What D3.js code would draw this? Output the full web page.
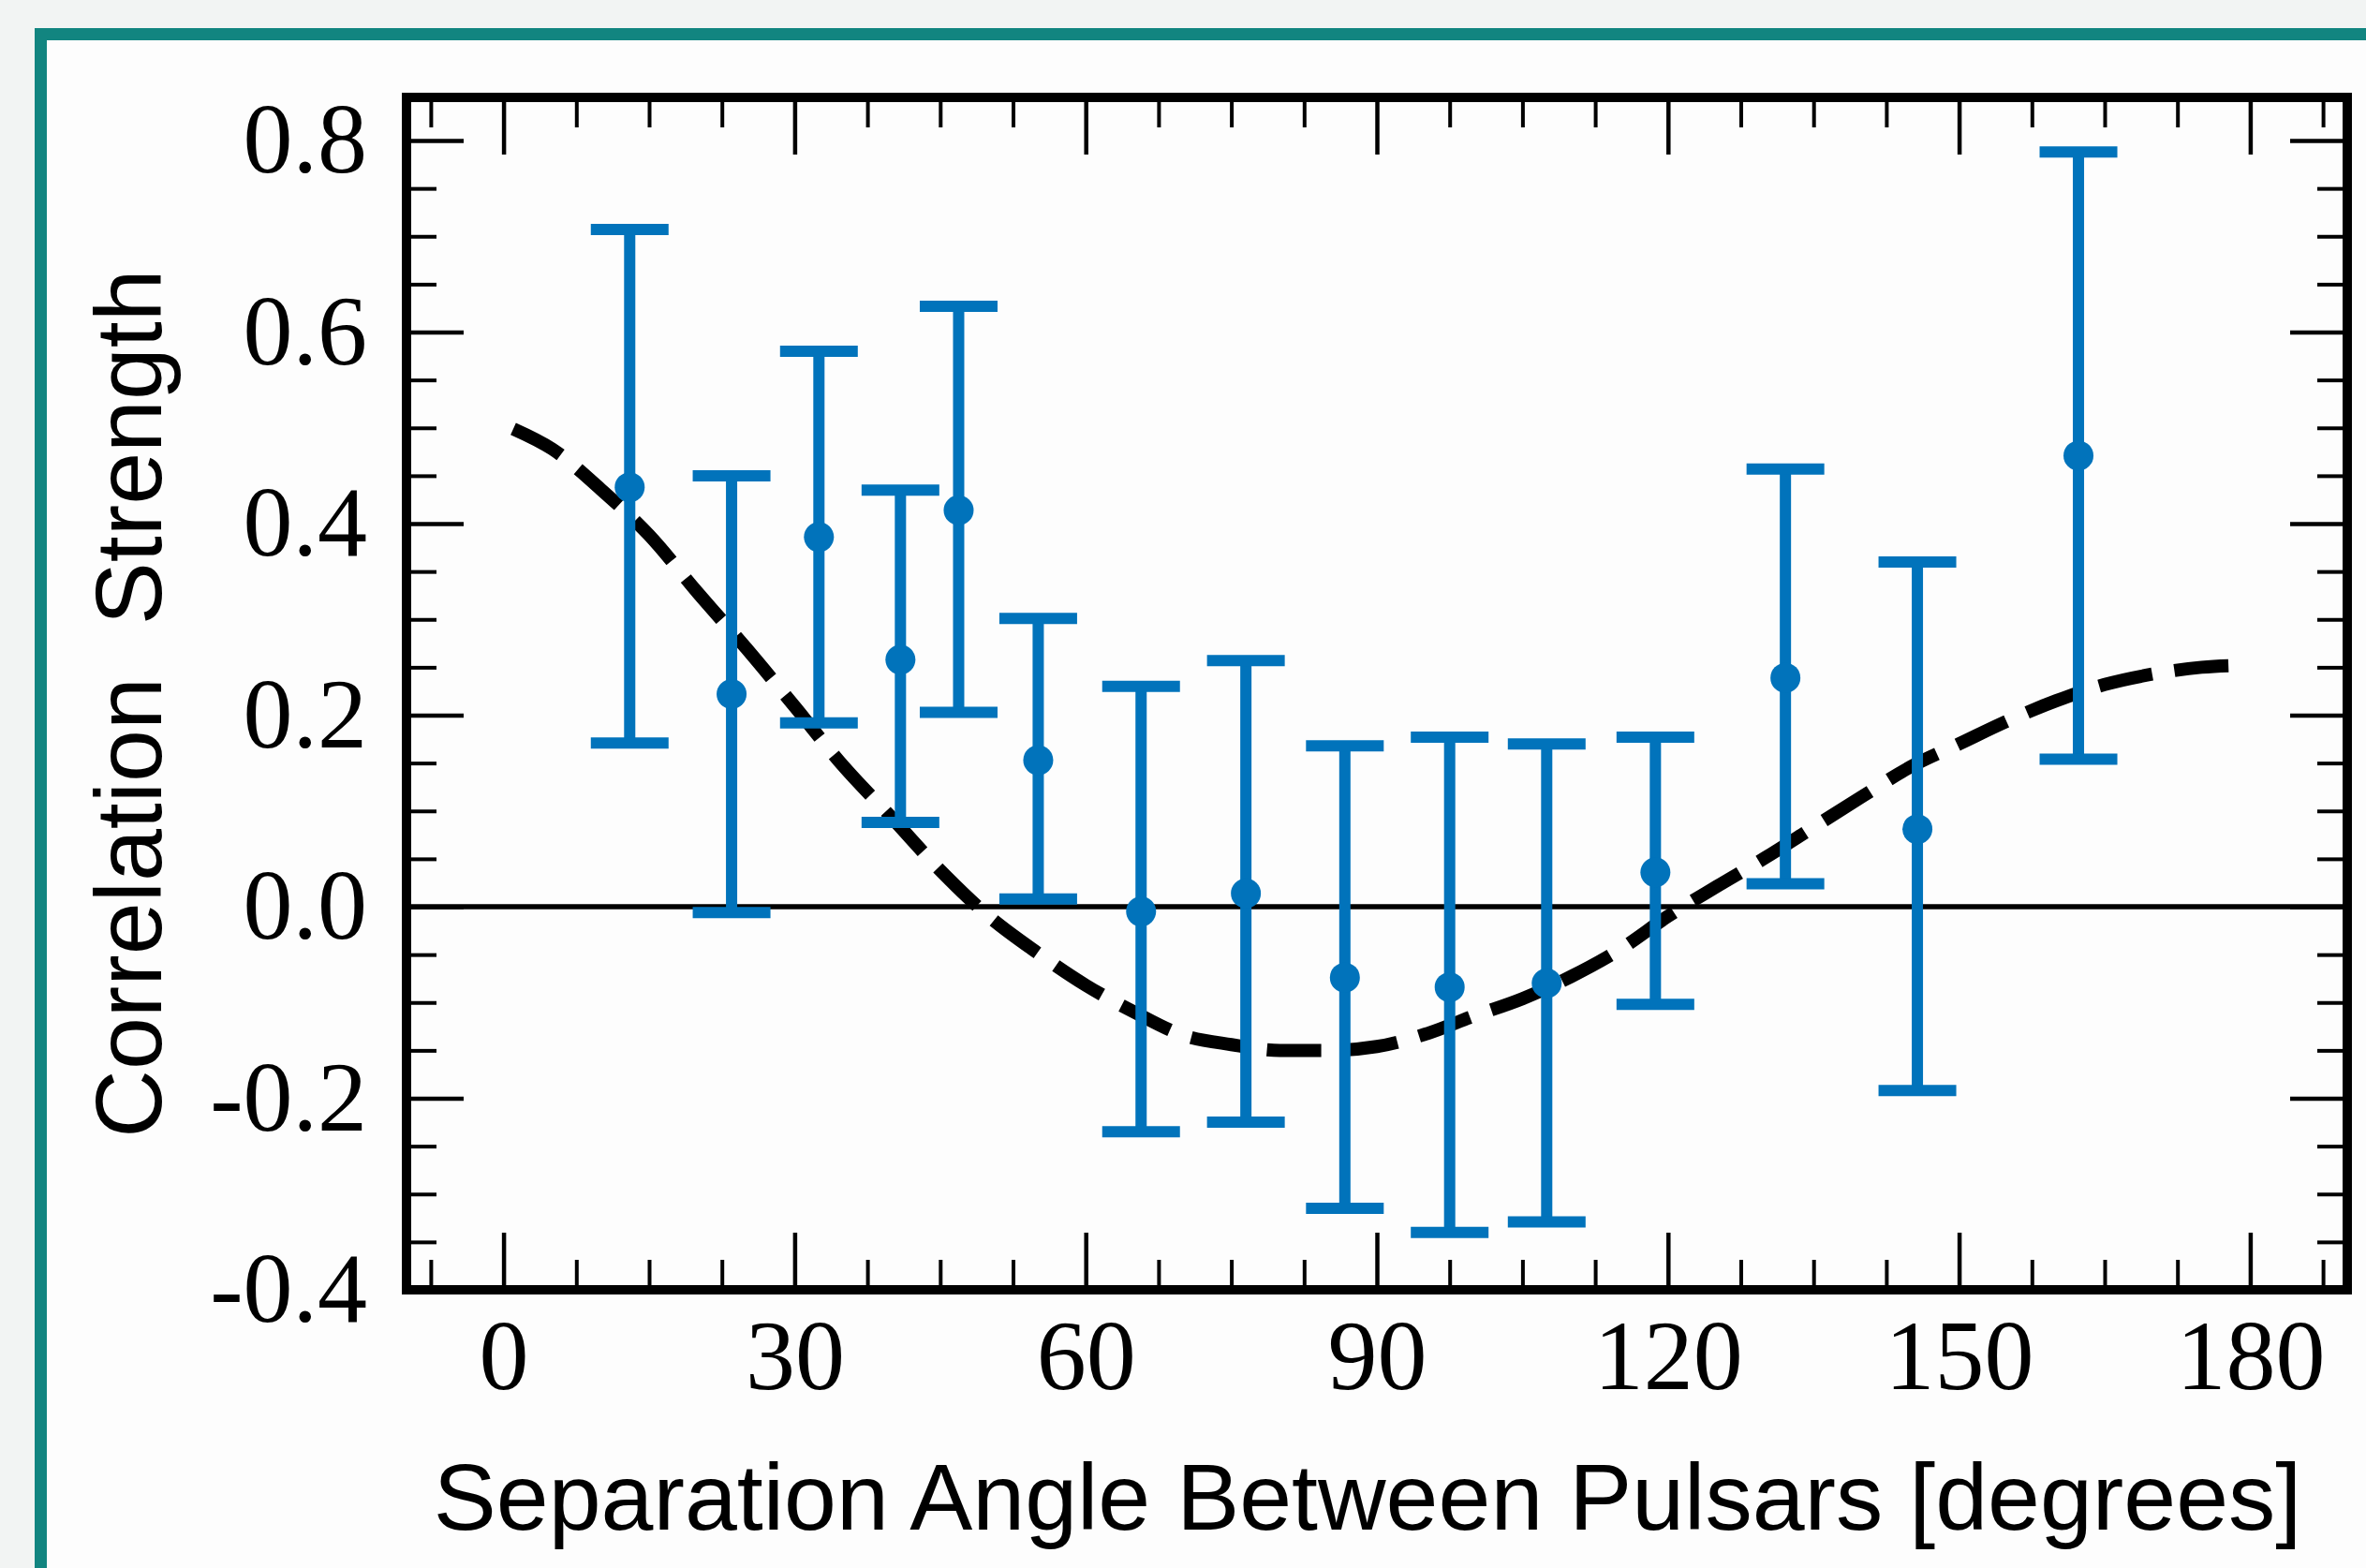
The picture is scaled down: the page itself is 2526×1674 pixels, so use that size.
<!DOCTYPE html>
<html>
<head>
<meta charset="utf-8">
<script src="https://cdn.jsdelivr.net/npm/d3@7"></script>
<style>
html, body { margin: 0; padding: 0; background: #f2f4f3; }
svg { display: block; }
</style>
</head>
<body>
<div id="chart"></div>
<script>
// pulsar pair bins: angle [deg], correlation, error bar top / bottom
const angles = [13, 23.5, 32.5, 40.9, 46.9, 55.1, 65.7, 76.5, 86.7, 97.5, 107.5, 118.7, 132.1, 145.7, 162.3];
const corr = [0.438, 0.222, 0.386, 0.258, 0.414, 0.153, -0.005, 0.014, -0.074, -0.084, -0.080, 0.036, 0.239, 0.081, 0.471];
const errTop = [0.707, 0.450, 0.580, 0.435, 0.627, 0.301, 0.230, 0.257, 0.168, 0.177, 0.170, 0.177, 0.457, 0.360, 0.788];
const errBottom = [0.171, -0.006, 0.192, 0.088, 0.203, 0.008, -0.235, -0.225, -0.315, -0.340, -0.329, -0.102, 0.024, -0.192, 0.154];

// dashed expected curve
const hdAngles = [1, 5, 10, 15, 20, 25, 30, 35, 40, 45, 50, 55, 60, 65, 70, 75, 80, 85, 90, 95, 100, 105, 110, 115, 120, 125, 130, 135, 140, 145, 150, 155, 160, 165, 170, 175, 179];
const hdValues = [0.499, 0.478, 0.436, 0.388, 0.328, 0.270, 0.209, 0.147, 0.093, 0.038, -0.010, -0.048, -0.082, -0.110, -0.134, -0.144, -0.150, -0.150, -0.146, -0.133, -0.114, -0.096, -0.073, -0.045, -0.010, 0.021, 0.051, 0.083, 0.115, 0.146, 0.170, 0.194, 0.215, 0.232, 0.243, 0.250, 0.252];

const xTicks = [0, 30, 60, 90, 120, 150, 180];
const yTicks = [-0.4, -0.2, 0, 0.2, 0.4, 0.6, 0.8];
const yTickLabels = ["-0.4", "-0.2", "0.0", "0.2", "0.4", "0.6", "0.8"];

const width = 2526, height = 1674;
const plot = {left: 434, right: 2506, top: 104, bottom: 1377};

const svg = d3.select("#chart").append("svg")
  .attr("width", width)
  .attr("height", height);

// teal card
svg.append("rect")
  .attr("x", 43.5).attr("y", 36.5)
  .attr("width", 3000).attr("height", 3000)
  .attr("fill", "#fdfdfd")
  .attr("stroke", "#128580")
  .attr("stroke-width", 13);

const x = d3.scaleLinear([-10, 190], [plot.left, plot.right]);
const y = d3.scaleLinear([-0.4, 0.845], [plot.bottom, plot.top]);

const xMinor = d3.range(-7.5, 190, 7.5).filter(v => !xTicks.includes(v));
const yMinor = d3.range(-8, 17).map(i => i * 0.05).filter(v => Math.abs(Math.round(v * 5) - v * 5) > 1e-6);

const serif = "'Liberation Serif', 'Times New Roman', serif";
const sans = "'Liberation Sans', Arial, sans-serif";
const majorLen = 61, minorLen = 32;

function styleTicks(g, sw) {
  g.select(".domain").remove();
  g.attr("font-family", serif).attr("font-size", 106);
  g.selectAll(".tick line").attr("stroke", "#000").attr("stroke-width", sw);
  g.selectAll(".tick text").attr("fill", "#000");
}

// bottom
svg.append("g")
  .attr("transform", `translate(0,${plot.bottom})`)
  .call(d3.axisBottom(x).tickValues(xTicks).tickSize(-majorLen).tickPadding(31).tickFormat(d3.format("d")))
  .call(g => styleTicks(g, 4.5));
svg.append("g")
  .attr("transform", `translate(0,${plot.bottom})`)
  .call(d3.axisBottom(x).tickValues(xMinor).tickSize(-minorLen).tickFormat(""))
  .call(g => styleTicks(g, 4));
// top
svg.append("g")
  .attr("transform", `translate(0,${plot.top})`)
  .call(d3.axisTop(x).tickValues(xTicks).tickSize(-majorLen).tickFormat(""))
  .call(g => styleTicks(g, 4.5));
svg.append("g")
  .attr("transform", `translate(0,${plot.top})`)
  .call(d3.axisTop(x).tickValues(xMinor).tickSize(-minorLen).tickFormat(""))
  .call(g => styleTicks(g, 4));
// left
svg.append("g")
  .attr("transform", `translate(${plot.left},0)`)
  .call(d3.axisLeft(y).tickValues(yTicks).tickSize(-majorLen).tickPadding(42)
    .tickFormat((d, i) => yTickLabels[i]))
  .call(g => styleTicks(g, 4.5));
svg.append("g")
  .attr("transform", `translate(${plot.left},0)`)
  .call(d3.axisLeft(y).tickValues(yMinor).tickSize(-minorLen).tickFormat(""))
  .call(g => styleTicks(g, 4));
// right
svg.append("g")
  .attr("transform", `translate(${plot.right},0)`)
  .call(d3.axisRight(y).tickValues(yTicks).tickSize(-majorLen).tickFormat(""))
  .call(g => styleTicks(g, 4.5));
svg.append("g")
  .attr("transform", `translate(${plot.right},0)`)
  .call(d3.axisRight(y).tickValues(yMinor).tickSize(-minorLen).tickFormat(""))
  .call(g => styleTicks(g, 4));

// zero line
svg.append("line")
  .attr("x1", plot.left).attr("x2", plot.right)
  .attr("y1", y(0)).attr("y2", y(0))
  .attr("stroke", "#000").attr("stroke-width", 5.5);

// dashed curve
const line = d3.line()
  .x((d, i) => x(hdAngles[i]))
  .y(d => y(d))
  .curve(d3.curveMonotoneX);
svg.append("path")
  .datum(hdValues)
  .attr("d", line)
  .attr("fill", "none")
  .attr("stroke", "#000")
  .attr("stroke-width", 14)
  .attr("stroke-dasharray", "58 24");

// error bars
const blue = "#0173bb";
const capW = 83;
const bars = svg.append("g")
  .attr("stroke", blue).attr("stroke-width", 12)
  .selectAll("g")
  .data(angles)
  .join("g");
bars.append("line")
  .attr("x1", d => x(d)).attr("x2", d => x(d))
  .attr("y1", (d, i) => y(errTop[i])).attr("y2", (d, i) => y(errBottom[i]));
bars.append("line")
  .attr("x1", d => x(d) - capW / 2).attr("x2", d => x(d) + capW / 2)
  .attr("y1", (d, i) => y(errTop[i])).attr("y2", (d, i) => y(errTop[i]));
bars.append("line")
  .attr("x1", d => x(d) - capW / 2).attr("x2", d => x(d) + capW / 2)
  .attr("y1", (d, i) => y(errBottom[i])).attr("y2", (d, i) => y(errBottom[i]));

svg.append("g")
  .selectAll("circle")
  .data(angles)
  .join("circle")
  .attr("cx", d => x(d))
  .attr("cy", (d, i) => y(corr[i]))
  .attr("r", 16)
  .attr("fill", blue);

// frame
svg.append("rect")
  .attr("x", plot.left).attr("y", plot.top)
  .attr("width", plot.right - plot.left).attr("height", plot.bottom - plot.top)
  .attr("fill", "none")
  .attr("stroke", "#000")
  .attr("stroke-width", 10);

// axis titles
svg.append("text")
  .attr("x", 1460).attr("y", 1633)
  .attr("text-anchor", "middle")
  .attr("font-family", sans).attr("font-size", 100.5)
  .attr("fill", "#000")
  .text("Separation Angle Between Pulsars [degrees]");

svg.append("text")
  .attr("transform", "translate(172,751) rotate(-90)")
  .attr("text-anchor", "middle")
  .attr("font-family", sans).attr("font-size", 100.5)
  .attr("fill", "#000")
  .style("white-space", "pre")
  .text("Correlation  Strength");
</script>
</body>
</html>
